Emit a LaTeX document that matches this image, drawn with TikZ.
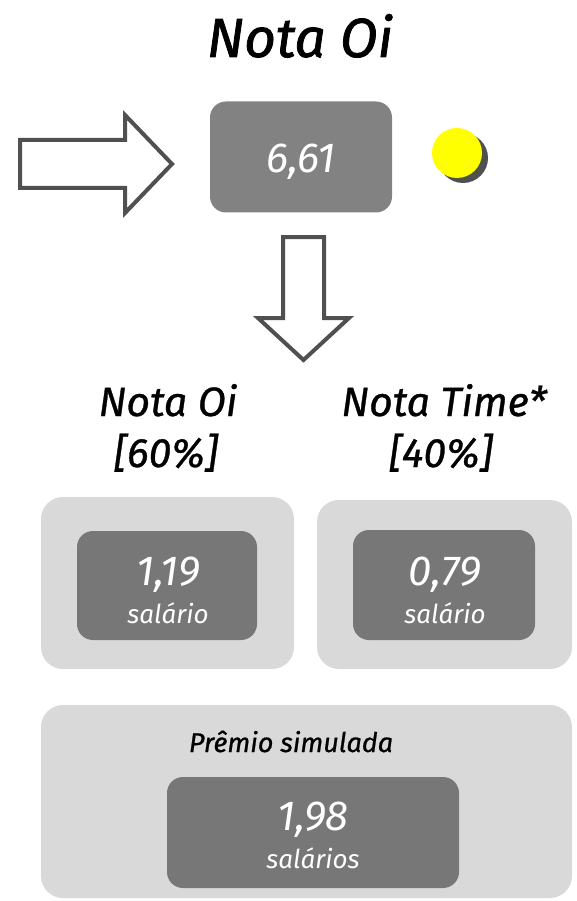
\documentclass[tikz,border=0pt]{standalone}
\usepackage{fontspec}
\setmainfont{Fira Sans}
\newfontfamily\heavyfont{Fira Sans}[FakeBold=1.4]
\newfontfamily\midfont{Fira Sans}[FakeBold=0.8]
\definecolor{panelgray}{HTML}{D9D9D9}
\definecolor{cardgray}{HTML}{777777}
\definecolor{topgray}{HTML}{828282}
\definecolor{arrowgray}{HTML}{505050}
\definecolor{dotyellow}{HTML}{FFFF00}
\tikzset{
  panel/.style={fill=panelgray,rounded corners=22pt,inner sep=0pt},
  card/.style={fill=cardgray,rounded corners=16pt,inner sep=0pt},
  blockarrow/.style={draw=arrowgray,line width=4pt,fill=white,line join=miter},
  num/.style={text=white,anchor=base,font=\fontsize{42}{46}\selectfont\itshape},
  unit/.style={text=white,anchor=base,font=\fontsize{26}{30}\selectfont\itshape},
  head/.style={anchor=base,font=\midfont\fontsize{41}{46}\selectfont\itshape}
}

\begin{document}
\begin{tikzpicture}[x=1pt,y=-1pt]
   \useasboundingbox (0,0) rectangle (576,901);
   \node[anchor=base,font=\heavyfont\fontsize{55}{60}\selectfont\itshape] (title) at (300,57) {Nota Oi};
   % nota e bolinha
   \node[card,fill=topgray,minimum width=182pt,minimum height=111pt] (score) at (301,157) {};
   \node[num] (scoreval) at (301,173) {6,61};
   \fill[arrowgray] (463,158) circle (25);
   \node[circle,fill=dotyellow,minimum size=50pt,inner sep=0pt] (dot) at (457,153) {};
   \draw[blockarrow] (20,140) -- (125,140) -- (125,115) -- (172,164) -- (125,213) -- (125,188) -- (20,188) -- cycle;
   \draw[blockarrow] (283,237) -- (324,237) -- (324,318) -- (349,318) -- (303.5,360) -- (258,318) -- (283,318) -- cycle;
   % pesos
   \node[head] (oihead) at (168,416) {Nota Oi};
   \node[head] (oiweight) at (166,467) {[60\%]};
   \node[head] (timehead) at (444,416) {Nota Time*};
   \node[head] (timeweight) at (441,467) {[40\%]};
   % caixas
   \node[panel,minimum width=253pt,minimum height=172pt] (oipanel) at (167.5,583) {};
   \node[panel,minimum width=255pt,minimum height=169pt] (timepanel) at (444.5,584.5) {};
   \node[card,minimum width=180pt,minimum height=109pt] (oicard) at (167,585.5) {};
   \node[card,minimum width=182pt,minimum height=110pt] (timecard) at (444,585) {};
   \node[num] (oival) at (168,585) {1,19};
   \node[unit] (oiunit) at (168,623) {salário};
   \node[num] (timeval) at (445,585) {0,79};
   \node[unit] (timeunit) at (445,623) {salário};
   % premio
   \node[panel,minimum width=531pt,minimum height=193pt] (prizepanel) at (306.5,801.5) {};
   \node[anchor=base,font=\midfont\fontsize{27}{30}\selectfont\itshape] (prizehead) at (291,752) {Prêmio simulada};
   \node[card,minimum width=292pt,minimum height=111pt] (prizecard) at (313,832.5) {};
   \node[num] (prizeval) at (313,830) {1,98};
   \node[unit] (prizeunit) at (313,868) {salários};
\end{tikzpicture}
\end{document}
